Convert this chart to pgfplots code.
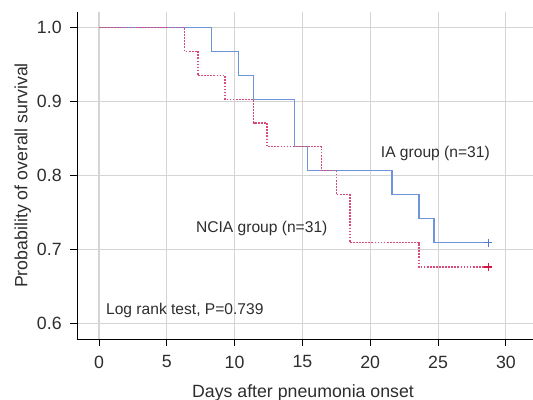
\documentclass[border=0pt]{standalone}
\usepackage{pgfplots}
\pgfplotsset{compat=1.18}
\usepackage{fontspec}
\setmainfont{Liberation Sans}
\definecolor{iablue}{RGB}{110,148,222}
\definecolor{nciared}{RGB}{215,75,120}
\definecolor{iamark}{RGB}{80,120,205}
\definecolor{nciamark}{RGB}{215,20,70}
\definecolor{txt}{RGB}{45,45,45}
\definecolor{gridc}{RGB}{212,212,212}

\begin{document}
\begin{tikzpicture}
\path[use as bounding box] (-57.75pt,-45.75pt) rectangle (342pt,254.25pt);
\begin{axis}[
  at={(0,0)}, anchor=south west,
  scale only axis,
  width=342pt, height=245.25pt,
  xmin=-1.62, xmax=32.0,
  ymin=0.5788, ymax=1.0212,
  axis x line*=bottom, axis y line*=left,
  axis line style={black, line width=0.7pt},
  xtick={0,5,...,30},
  ytick={0.6,0.7,0.8,0.9,1.0},
  /pgf/number format/assume math mode=true,
  tick align=outside, tick pos=left,
  major tick length=5pt,
  tick style={black, line width=0.7pt},
  grid=major,
  major grid style={gridc, line width=0.8pt},
  ticklabel style={font=\fontsize{13.3}{15}\selectfont, text=txt},
  xticklabel style={yshift=-4pt},
  yticklabel style={xshift=-3pt, /pgf/number format/.cd, fixed, fixed zerofill, precision=1},
  label style={font=\fontsize{13.3}{15}\selectfont, text=txt},
  xlabel={Days after pneumonia onset},
  ylabel={Probability of overall survival},
  xlabel style={at={(axis description cs:0.4956,-0.166)}, anchor=center},
  ylabel style={at={(axis description cs:-0.119,0.5)}, anchor=center},
  clip=false,
]
% IA group (solid blue)
\addplot[const plot, iablue, line width=0.9pt] coordinates {
  (0,1.0) (8.3,0.968) (10.3,0.935) (11.4,0.903) (14.4,0.839) (15.4,0.807)
  (21.6,0.774) (23.6,0.742) (24.7,0.709) (28.7,0.709)};
% NCIA group (dashed red)
\addplot[const plot, nciared, line width=1pt, dash pattern=on 1.3pt off 1pt] coordinates {
  (0,1.0) (6.3,0.968) (7.3,0.935) (9.3,0.903) (11.4,0.871) (12.4,0.839)
  (16.4,0.807) (17.5,0.774) (18.5,0.709) (23.6,0.676) (28.7,0.676)};
% censoring marks
\addplot[only marks, mark=+, mark size=3pt, iamark, line width=0.9pt] coordinates {(28.7,0.709)};
\addplot[only marks, mark=+, mark size=3pt, nciamark, line width=1pt] coordinates {(28.7,0.676)};
\node[text=txt, font=\fontsize{11.7}{13}\selectfont] at (axis cs:24.8,0.830) {IA group (n=31)};
\node[text=txt, font=\fontsize{11.7}{13}\selectfont] at (axis cs:12.0,0.728) {NCIA group (n=31)};
\node[text=txt, font=\fontsize{11.7}{13}\selectfont] at (axis cs:6.33,0.617) {Log rank test, P=0.739};
\end{axis}
\end{tikzpicture}
\end{document}
